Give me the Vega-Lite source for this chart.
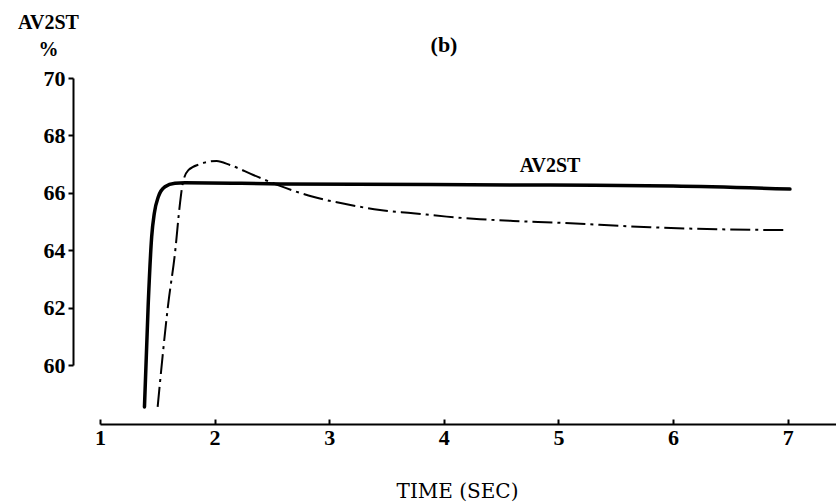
{
  "$schema": "https://vega.github.io/schema/vega-lite/v6.json",
  "width": 736,
  "height": 287,
  "autosize": {"type": "none"},
  "padding": {"left": 100, "top": 78, "right": 0, "bottom": 138},
  "background": "white",
  "config": {"view": {"stroke": null}, "font": "Liberation Serif"},
  "title": {
    "text": "(b)",
    "anchor": "middle",
    "frame": "group",
    "dx": -24,
    "dy": 45,
    "font": "Liberation Serif",
    "fontSize": 22,
    "fontWeight": "bold",
    "color": "black",
    "offset": 0
  },
  "datasets": {
    "curves": [
      {"series": "AV2ST", "t": 1.388, "v": 58.54},
      {"series": "AV2ST", "t": 1.421, "v": 62.15},
      {"series": "AV2ST", "t": 1.451, "v": 64.47},
      {"series": "AV2ST", "t": 1.474, "v": 65.29},
      {"series": "AV2ST", "t": 1.509, "v": 65.86},
      {"series": "AV2ST", "t": 1.567, "v": 66.21},
      {"series": "AV2ST", "t": 1.654, "v": 66.33},
      {"series": "AV2ST", "t": 1.742, "v": 66.35},
      {"series": "AV2ST", "t": 2.571, "v": 66.31},
      {"series": "AV2ST", "t": 4.927, "v": 66.27},
      {"series": "AV2ST", "t": 6.000, "v": 66.24},
      {"series": "AV2ST", "t": 7.020, "v": 66.13},
      {"series": "alt", "t": 1.503, "v": 58.54},
      {"series": "alt", "t": 1.596, "v": 62.15},
      {"series": "alt", "t": 1.654, "v": 63.89},
      {"series": "alt", "t": 1.698, "v": 65.63},
      {"series": "alt", "t": 1.722, "v": 66.33},
      {"series": "alt", "t": 1.771, "v": 66.79},
      {"series": "alt", "t": 1.873, "v": 67.00},
      {"series": "alt", "t": 2.018, "v": 67.11},
      {"series": "alt", "t": 2.134, "v": 66.97},
      {"series": "alt", "t": 2.338, "v": 66.62},
      {"series": "alt", "t": 2.571, "v": 66.24},
      {"series": "alt", "t": 2.859, "v": 65.86},
      {"series": "alt", "t": 3.153, "v": 65.60},
      {"series": "alt", "t": 3.443, "v": 65.40},
      {"series": "alt", "t": 3.731, "v": 65.29},
      {"series": "alt", "t": 4.025, "v": 65.17},
      {"series": "alt", "t": 4.316, "v": 65.08},
      {"series": "alt", "t": 4.604, "v": 65.02},
      {"series": "alt", "t": 4.985, "v": 64.96},
      {"series": "alt", "t": 5.799, "v": 64.80},
      {"series": "alt", "t": 6.381, "v": 64.73},
      {"series": "alt", "t": 7.003, "v": 64.70}
    ],
    "labels": [
      {"t": 4.927, "v": 66.74, "text": "AV2ST"}
    ]
  },
  "encoding": {
    "x": {
      "field": "t",
      "type": "quantitative",
      "scale": {"domain": [1, 7.422], "nice": false, "zero": false},
      "axis": {
        "values": [1, 2, 3, 4, 5, 6, 7],
        "format": "d",
        "grid": false,
        "offset": 59,
        "domainColor": "black",
        "domainWidth": 2,
        "tickColor": "black",
        "tickWidth": 2,
        "tickSize": -5,
        "labelFont": "Liberation Serif",
        "labelFontWeight": "bold",
        "labelFontSize": 22,
        "labelColor": "black",
        "labelPadding": 8,
        "labelFlush": false,
        "labelBaseline": "top",
        "title": "TIME (SEC)",
        "titleFont": "DejaVu Serif",
        "titleFontSize": 20,
        "titleFontWeight": "normal",
        "titleColor": "black",
        "titleAlign": "center",
        "titleBaseline": "alphabetic",
        "titleX": 357,
        "titleY": 73
      }
    },
    "y": {
      "field": "v",
      "type": "quantitative",
      "scale": {"domain": [60, 70], "nice": false, "zero": false},
      "axis": {
        "values": [60, 62, 64, 66, 68, 70],
        "grid": false,
        "offset": 27,
        "domainColor": "black",
        "domainWidth": 2,
        "tickColor": "black",
        "tickWidth": 2,
        "tickSize": 5,
        "labelFont": "Liberation Serif",
        "labelFontWeight": "bold",
        "labelFontSize": 22,
        "labelColor": "black",
        "labelPadding": 3,
        "labelFlush": false,
        "title": ["AV2ST", "%"],
        "titleFont": "Liberation Serif",
        "titleFontWeight": "bold",
        "titleFontSize": 20,
        "titleColor": "black",
        "titleAngle": 0,
        "titleAlign": "center",
        "titleBaseline": "alphabetic",
        "titleLineHeight": 27,
        "titleX": -25,
        "titleY": -50
      }
    }
  },
  "layer": [
    {
      "data": {"name": "curves"},
      "transform": [{"filter": "datum.series === 'AV2ST'"}],
      "mark": {"type": "line", "interpolate": "monotone", "color": "black", "strokeWidth": 3.5, "strokeCap": "round"}
    },
    {
      "data": {"name": "curves"},
      "transform": [{"filter": "datum.series === 'alt'"}],
      "mark": {"type": "line", "interpolate": "monotone", "color": "black", "strokeWidth": 2, "strokeDash": [20, 5, 3, 5]}
    },
    {
      "data": {"name": "labels"},
      "mark": {"type": "text", "font": "Liberation Serif", "fontWeight": "bold", "fontSize": 20, "color": "black", "align": "center", "baseline": "alphabetic"},
      "encoding": {"text": {"field": "text"}}
    }
  ]
}
